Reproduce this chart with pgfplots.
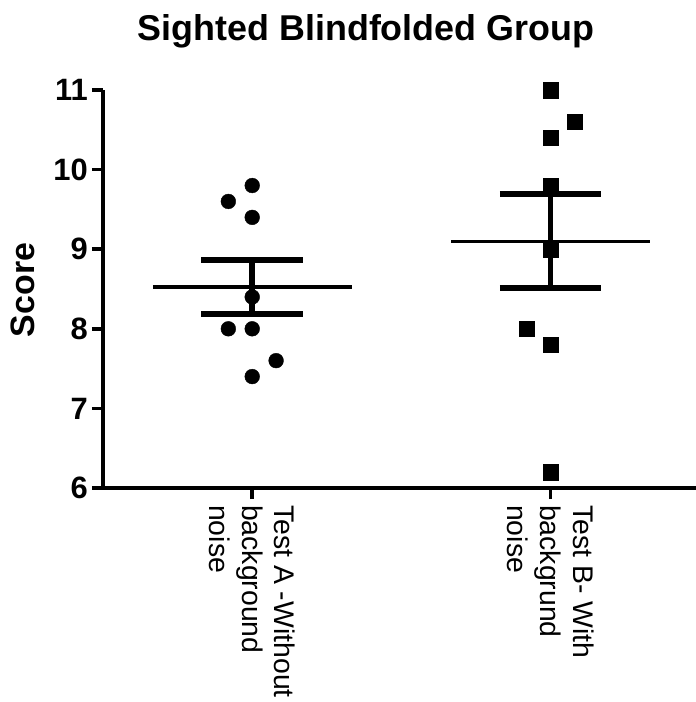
\documentclass[border=0pt]{standalone}
\usepackage{pgfplots}
\pgfplotsset{compat=1.18}
\usepackage{fontspec}
\setmainfont{Liberation Sans}
\begin{document}
\begin{tikzpicture}
\useasboundingbox (-103bp,-214bp) rectangle (593bp,488bp);
\begin{axis}[
  at={(0,0)}, anchor=south west,
  scale only axis, width=593bp, height=398bp,
  xmin=-0.5, xmax=1.487, ymin=6, ymax=11,
  axis x line=bottom, axis y line=left,
  axis line style={-, line width=3.5bp, black},
  tick align=outside,
  major tick length=11bp,
  every tick/.style={line width=3.5bp, black},
  xtick={0,1},
  xticklabels={{Test A -Without\\background\\noise},{Test B- With\\backgrund\\noise}},
  xticklabel style={rotate=-90, anchor=west, align=left, inner sep=0pt, xshift=6bp,
    font=\fontsize{28.5}{33}\selectfont},
  ytick={6,7,8,9,10,11},
  yticklabel style={font=\bfseries\fontsize{31}{34}\selectfont, inner sep=0pt, xshift=-4bp},
  /pgf/number format/assume math mode=true,
  clip=false,
]
\addplot[only marks, mark=*, mark size=7.4bp, black] coordinates {
  (0,9.8) (-0.08,9.6) (0,9.4) (0,8.4) (-0.08,8.0) (0,8.0) (0.08,7.6) (0,7.4)};
\addplot[only marks, mark=square*, mark size=7.8bp, black] coordinates {
  (1,11) (1.08,10.6) (1,10.4) (1,9.8) (1,9.0) (0.92,8.0) (1,7.8) (1,6.2)};
% Group A mean and SEM
\addplot[black, mark=none, line width=3.3bp] coordinates {(-0.333,8.525) (0.333,8.525)};
\addplot[black, mark=none, line width=5.5bp] coordinates {(0,8.191) (0,8.859)};
\addplot[black, mark=none, line width=6bp] coordinates {(-0.17,8.859) (0.17,8.859)};
\addplot[black, mark=none, line width=6bp] coordinates {(-0.17,8.191) (0.17,8.191)};
% Group B mean and SEM
\addplot[black, mark=none, line width=3.3bp] coordinates {(0.667,9.1) (1.333,9.1)};
\addplot[black, mark=none, line width=5.5bp] coordinates {(1,8.512) (1,9.688)};
\addplot[black, mark=none, line width=6bp] coordinates {(0.83,9.688) (1.17,9.688)};
\addplot[black, mark=none, line width=6bp] coordinates {(0.83,8.512) (1.17,8.512)};
\end{axis}
\node[anchor=base, font=\bfseries\fontsize{36}{40}\selectfont] at (263bp,447bp) {Sighted Blindfolded Group};
\node[rotate=90, font=\bfseries\fontsize{34}{38}\selectfont] at (-80bp,198bp) {Score};
\end{tikzpicture}
\end{document}
